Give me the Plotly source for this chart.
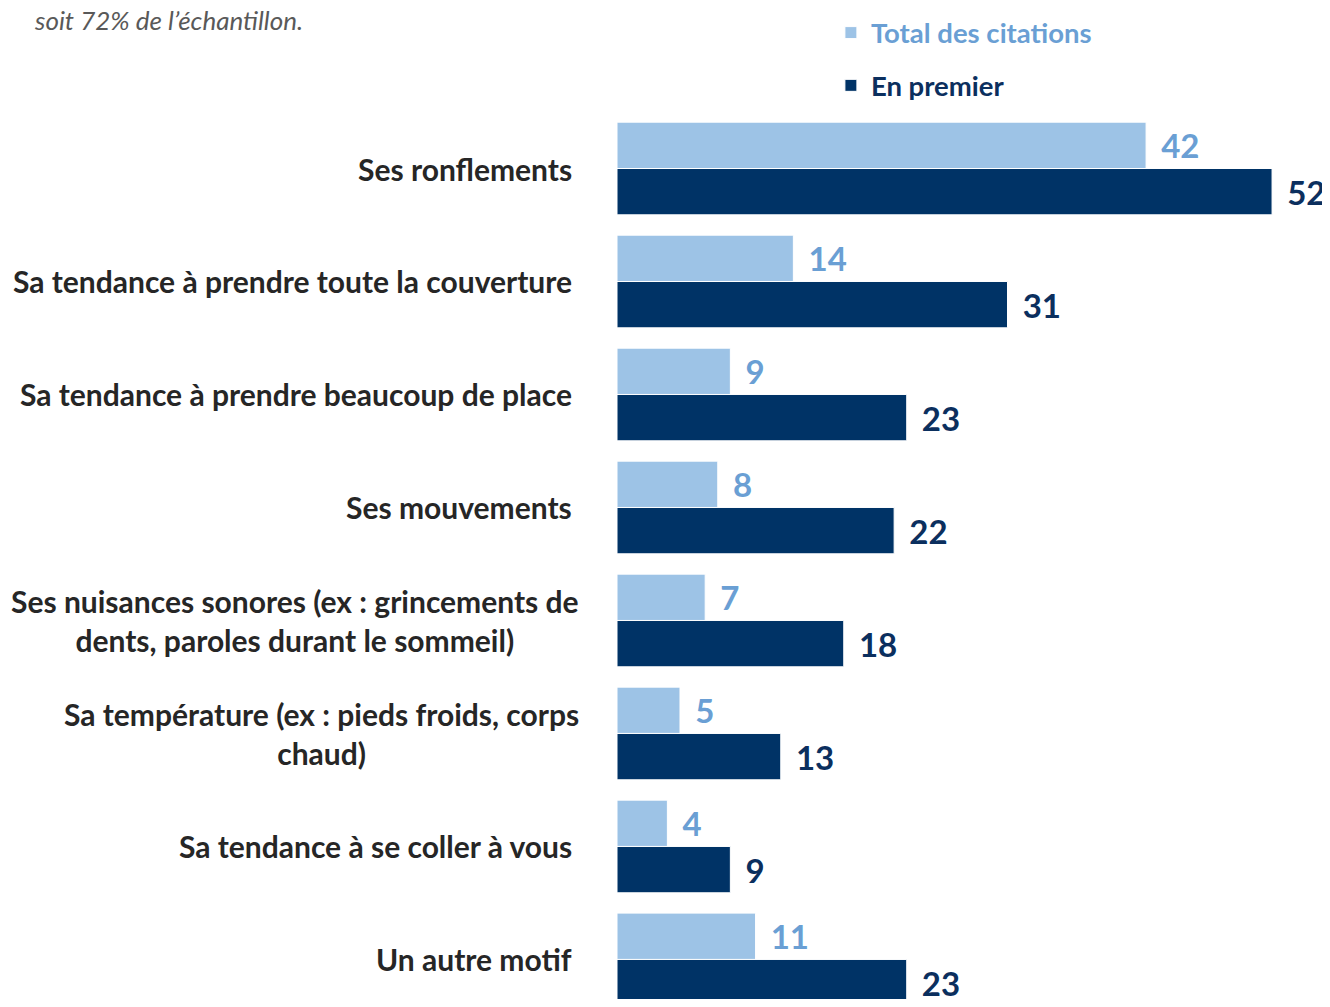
import plotly.graph_objects as go

categories = [
    "Ses ronflements",
    "Sa tendance à prendre toute la couverture",
    "Sa tendance à prendre beaucoup de place",
    "Ses mouvements",
    "Ses nuisances sonores (ex : grincements de<br>dents, paroles durant le sommeil)",
    "Sa température (ex : pieds froids, corps<br>chaud)",
    "Sa tendance à se coller à vous",
    "Un autre motif",
]
total_citations = [42, 14, 9, 8, 7, 5, 4, 11]
en_premier = [52, 31, 23, 22, 18, 13, 9, 23]
series_names = ["Total des citations", "En premier"]
note_text = "soit 72% de l’échantillon."

LIGHT = "#9DC3E6"
LIGHT_TXT = "#6A9FD4"
DARK = "#003366"
DARK_TXT = "#0B2F5E"
LABEL_TXT = "#262626"
FONT = "Lato"

pos = list(range(len(categories)))
PAD = "\u00a0\u2009"

fig = go.Figure()
fig.add_trace(go.Bar(
    y=pos, x=total_citations, orientation="h", name=f'<span style="color:{LIGHT_TXT}">{series_names[0]}</span>',
    marker=dict(color=LIGHT, line=dict(color="white", width=1)),
    text=total_citations, texttemplate=PAD + "%{x}", textposition="outside",
    textfont=dict(family=FONT, size=33, color=LIGHT_TXT, weight="bold"),
    constraintext="none", cliponaxis=False, legendgroup="a",
))
fig.add_trace(go.Bar(
    y=pos, x=en_premier, orientation="h", name=f'<span style="color:{DARK_TXT}">{series_names[1]}</span>',
    marker=dict(color=DARK, line=dict(color="white", width=1)),
    text=en_premier, texttemplate=PAD + "%{x}", textposition="outside",
    textfont=dict(family=FONT, size=33, color=DARK_TXT, weight="bold"),
    constraintext="none", cliponaxis=False, legendgroup="b",
))

annotations = []
for i, c in enumerate(categories):
    annotations.append(dict(
        x=0, xref="paper", y=i, yref="y", text=c, showarrow=False,
        xanchor="right", yanchor="middle", align="center",
        xshift=-36 if "<br>" in c else -43,
        font=dict(family=FONT, size=30, color=LABEL_TXT, weight="bold"),
    ))
annotations.append(dict(
    x=-0.8205, xref="paper", y=1.1037, yref="paper", text=f"<i>{note_text}</i>",
    showarrow=False, xanchor="left", yanchor="middle",
    font=dict(family=FONT, size=26, color="#595959", weight="normal"),
))

fig.update_layout(
    width=1322, height=991,
    margin=dict(l=609, r=0, t=104, b=0),
    paper_bgcolor="white", plot_bgcolor="white",
    barmode="group", bargap=0.18, bargroupgap=0.0,
    xaxis=dict(range=[0, 56.6], visible=False),
    yaxis=dict(range=[7.35, -0.5], visible=False),
    showlegend=True,
    legend=dict(x=0.3, y=1.117, xanchor="left", yanchor="top",
                font=dict(family=FONT, size=27.5, weight="bold"), tracegroupgap=14,
                bgcolor="rgba(0,0,0,0)"),
    annotations=annotations,
)

fig.write_html("out.html")
